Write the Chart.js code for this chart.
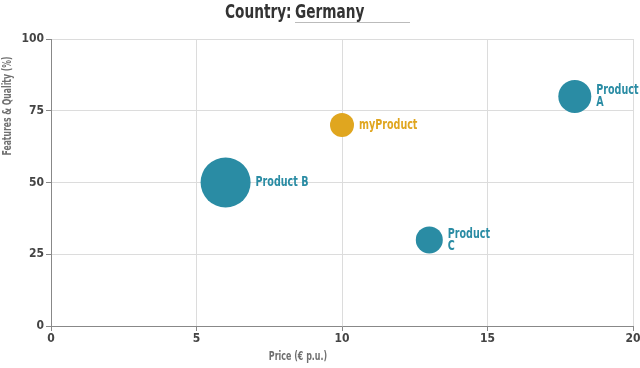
<!DOCTYPE html>
<html>
<head>
<meta charset="utf-8">
<script src="https://cdn.jsdelivr.net/npm/chart.js@4"></script>
<style>
  body { margin: 0; background: #fff; font-family: 'DejaVu Sans Condensed', sans-serif; }
  .wrap { position: relative; width: 640px; height: 368px; }
  .head { position: absolute; top: 0; font-size: 19px; font-weight: bold; color: #333; line-height: 22px; white-space: nowrap; }
  .head span { display: inline-block; transform: scaleX(0.8); transform-origin: left; }
  .sel { border-bottom: 1px solid #bbb; width: 115px; height: 22px; }
  canvas { position: absolute; left: 0; top: 0; }
</style>
</head>
<body>
<div class="wrap">
  <canvas id="chart" width="640" height="368"></canvas>
  <div class="head" style="left:225px"><span>Country:</span></div>
  <div class="head sel" style="left:295px"><span>Germany</span></div>
</div>
<script>
const products = [['Product', 'A'], ['myProduct'], ['Product B'], ['Product', 'C']];
const prices = [18, 10, 6, 13];
const quality = [80, 70, 50, 30];
const radius = [16.5, 12, 25, 13.5];
const colors = ['#2a8ca4', '#e0a61f', '#2a8ca4', '#2a8ca4'];
const xTicks = [0, 5, 10, 15, 20];
const yTicks = [0, 25, 50, 75, 100];

const font = "'DejaVu Sans Condensed', sans-serif";

function narrowText(ctx, text, x, y, align, sx) {
    ctx.save();
    ctx.translate(x, y);
    ctx.scale(sx, 1);
    ctx.textAlign = align;
    ctx.fillText(text, 0, 0);
    ctx.restore();
}

const labelPlugin = {
    id: 'bubbleLabels',
    afterDatasetsDraw(chart) {
        const ctx = chart.ctx;
        ctx.save();
        ctx.font = 'bold 14px ' + font;
        ctx.textBaseline = 'middle';
        chart.data.datasets.forEach((ds, i) => {
            const el = chart.getDatasetMeta(i).data[0];
            const lines = products[i];
            ctx.fillStyle = colors[i];
            const x = el.x + radius[i] + 5;
            const y0 = el.y - (lines.length - 1) * 6;
            lines.forEach((l, j) => narrowText(ctx, l, x, y0 + j * 12, 'left', 0.76));
        });
        // axis titles
        ctx.fillStyle = '#707070';
        ctx.font = 'bold 13px ' + font;
        narrowText(ctx, 'Price (€ p.u.)', 298, 357, 'center', 0.68);
        ctx.save();
        ctx.translate(8, 106);
        ctx.rotate(-Math.PI / 2);
        narrowText(ctx, 'Features & Quality (%)', 0, 0, 'center', 0.66);
        ctx.restore();
        ctx.restore();
    }
};

new Chart(document.getElementById('chart'), {
    type: 'bubble',
    data: {
        datasets: products.map((p, i) => ({
            label: p.join(' '),
            data: [{ x: prices[i], y: quality[i], r: radius[i] }],
            backgroundColor: colors[i],
            borderWidth: 0,
            hoverBorderWidth: 0
        }))
    },
    options: {
        responsive: false,
        animation: false,
        layout: { autoPadding: false, padding: { top: 39, right: 7 } },
        plugins: { legend: { display: false }, tooltip: { enabled: false } },
        scales: {
            x: {
                type: 'linear', min: 0, max: 20,
                afterBuildTicks: s => { s.ticks = xTicks.map(v => ({ value: v })); },
                afterFit: s => { s.height = 42; s.paddingLeft = 0; s.paddingRight = 0; },
                grid: { color: '#dcdcdc', tickColor: '#888', tickLength: 5 },
                border: { color: '#888' },
                ticks: { color: '#444', padding: 1, maxRotation: 0, font: { family: font, size: 12, weight: 'bold' } }
            },
            y: {
                type: 'linear', min: 0, max: 100,
                afterBuildTicks: s => { s.ticks = yTicks.map(v => ({ value: v })); },
                afterFit: s => { s.width = 51; s.paddingTop = 0; s.paddingBottom = 0; },
                grid: { color: '#dcdcdc', tickColor: '#888', tickLength: 5 },
                border: { color: '#888' },
                ticks: { color: '#444', padding: 2, font: { family: font, size: 12, weight: 'bold' } }
            }
        }
    },
    plugins: [labelPlugin]
});
</script>
</body>
</html>
